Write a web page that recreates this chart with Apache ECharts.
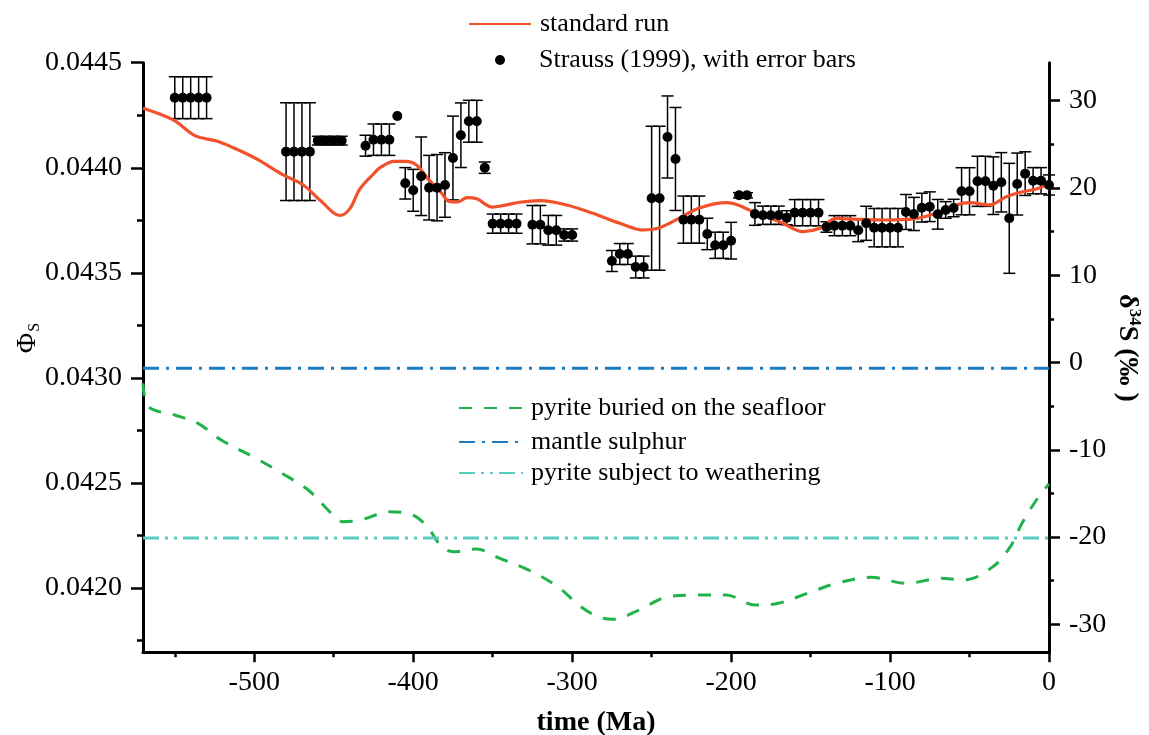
<!DOCTYPE html>
<html><head><meta charset="utf-8">
<script src="https://cdn.jsdelivr.net/npm/echarts@6/dist/echarts.min.js"></script>
<style>html,body{margin:0;padding:0;background:#fff}#c{width:1149px;height:735px}</style>
</head><body><div id="c"></div>
<script>
const FONT = 'Liberation Serif';

// Strauss (1999) data: time (Ma), delta34S (permil), error (permil)
const straussTime = [-550,-545,-540,-535,-530,-480,-475,-470,-465,-460,-455,-450,-445,-430,-425,-420,-415,-410,-405,-400,-395,-390,-385,-380,-375,-370,-365,-360,-355,-350,-345,-340,-335,-325,-320,-315,-310,-305,-300,-275,-270,-265,-260,-255,-250,-245,-240,-235,-230,-225,-220,-215,-210,-205,-200,-195,-190,-185,-180,-175,-170,-165,-160,-155,-150,-145,-140,-135,-130,-125,-120,-115,-110,-105,-100,-95,-90,-85,-80,-75,-70,-65,-60,-55,-50,-45,-40,-35,-30,-25,-20,-15,-10,-5,0];
const straussD34S = [30.34,30.34,30.34,30.34,30.34,24.16,24.16,24.16,24.16,25.42,25.42,25.42,25.42,24.84,25.53,25.53,25.53,28.25,20.53,19.73,21.34,20.03,20.03,20.34,23.43,26.04,27.64,27.64,22.32,15.91,15.91,15.91,15.91,15.79,15.79,15.15,15.15,14.61,14.61,11.63,12.43,12.43,10.94,10.94,18.82,18.82,25.84,23.32,16.37,16.37,16.37,14.73,13.43,13.43,13.96,19.16,19.16,17.02,16.87,16.87,16.87,16.59,17.17,17.17,17.17,17.17,15.53,15.68,15.68,15.68,15.15,15.95,15.45,15.45,15.45,15.45,17.25,17.02,17.74,17.85,16.98,17.48,17.70,19.62,19.62,20.76,20.76,20.26,20.65,16.52,20.45,21.64,20.83,20.83,20.34];
const straussErr = [2.4,2.4,2.4,2.4,2.4,5.6,5.6,5.6,5.6,0.5,0.5,0.5,0.5,1.2,1.8,1.8,1.8,0,1.8,2.4,4.5,3.7,3.8,3.7,4.8,3.7,2.4,2.4,0.65,1.1,1.1,1.1,1.1,2.2,2.2,1.7,1.7,0.7,0.7,1.2,1.2,1.2,1.25,1.25,8.25,8.25,4.7,5.9,2.7,2.7,2.7,1.8,1.5,1.5,2.1,0.3,0.3,1.3,1.05,1.05,1.05,0.8,1.5,1.5,1.5,1.5,0.6,1.15,1.15,1.15,1.3,1.95,2.2,2.2,2.2,2.2,2.0,1.9,1.65,1.7,1.7,0.95,1.0,2.7,2.7,2.87,2.87,3.3,3.4,6.3,3.55,2.5,1.5,1.5,1.15];

// standard run
const runTime = [-570,-551,-537,-523.6,-511,-498.5,-481.8,-469.2,-458.7,-446,-440,-433.5,-425,-421,-412,-405,-398,-390,-383,-377,-372,-366,-360,-350,-343,-333,-320,-303.5,-287,-270,-255,-245,-232,-220,-203,-194.5,-182,-169.4,-154.7,-144.2,-133.7,-121,-102,-85.5,-70.8,-58.2,-50,-37.3,-26.8,-16.4,-8,-1.6,0];
const runD34S = [29.13,27.79,25.96,25.38,24.43,23.32,21.49,20.34,18.62,16.85,17.6,19.9,21.6,22.3,23.05,23.05,22.63,20.9,19.6,18.43,18.4,18.9,18.75,17.8,18.0,18.36,18.54,18.05,17.1,15.95,15.18,15.45,16.6,17.7,18.31,17.97,16.9,16.14,14.99,15.38,16.52,16.41,16.33,16.45,17.1,18.05,18.31,18.05,19.0,19.57,19.88,20.34,20.45];

// pyrite buried on the seafloor
const pyriteTime = [-570,-566.4,-550,-535.4,-520.8,-498.9,-482.5,-466,-451.4,-444.1,-433.1,-414.9,-400.3,-391.2,-382.1,-374.8,-360.2,-345.5,-327.3,-309.1,-294.5,-283.5,-274.4,-258,-239.7,-221.4,-203.2,-185,-170.4,-152.1,-133.8,-111.9,-90,-68.1,-53.5,-35.3,-24.3,-17,-7.9,0];
const pyriteD34S = [-2.38,-5.06,-6.01,-6.97,-8.88,-10.98,-12.7,-14.61,-17.28,-18.24,-18.05,-17.1,-17.47,-18.81,-21.1,-21.68,-21.37,-22.44,-23.78,-25.69,-27.98,-29.13,-29.42,-28.36,-26.83,-26.64,-26.64,-27.79,-27.59,-26.45,-25.3,-24.61,-25.3,-24.73,-24.92,-23.4,-21.1,-18.42,-15.75,-13.9];

// mantle sulphur and weathering pyrite (constant)
const mantleTime = [-570, 0];
const mantleD34S = [-0.65, -0.65];
const weatherTime = [-570, 0];
const weatherD34S = [-20.1, -20.1];

// axes
const xRange = [-570, 0];
const phiRange = [0.041694, 0.0445];
const d34Range = [-33.2, 34.35];
const xMajorTicks = [-500,-400,-300,-200,-100,0];
const xMinorTicks = [-550,-450,-350,-250,-150,-50];
const phiTicks = [0.0420,0.0425,0.0430,0.0435,0.0440,0.0445];
const phiMinorTicks = [0.04175,0.04225,0.04275,0.04325,0.04375,0.04425];
const d34Ticks = [-30,-20,-10,0,10,20,30];
const d34MinorTicks = [-25,-15,-5,5,15,25];

const zip = (a, b) => a.map((v, i) => [v, b[i]]);
const tickStyle = {color:'#000', width:2.5};
const labelStyle = {fontFamily:FONT, fontSize:28, color:'#000'};

const chart = echarts.init(document.getElementById('c'), null, {renderer:'canvas'});
function legendAt(name, left, centerY, w, h, padLeft, icon) {
  const l = {data:[name], left:left, top:centerY - 15, padding:0, itemWidth:w, itemHeight:h,
    textStyle:{fontFamily:FONT, fontSize:26, color:'#000', padding:[0,0,0,padLeft], lineHeight:30},
    selectedMode:false};
  if (icon) l.icon = icon; else l.itemStyle = {opacity:0};
  return l;
}
chart.setOption({
  animation:false,
  backgroundColor:'#fff',
  grid:{left:143, right:100, top:62.7, bottom:82.7, containLabel:false, outerBoundsMode:'none'},
  legend:[
    legendAt('standard run', 468, 24, 62, 14, 4),
    legendAt('Strauss (1999), with error bars', 495, 60, 10, 10, 29, 'circle'),
    legendAt('pyrite buried on the seafloor', 458, 408, 64, 14, 3),
    legendAt('mantle sulphur', 458, 442, 64, 14, 3),
    legendAt('pyrite subject to weathering', 458, 473, 64, 14, 3)
  ],
  xAxis:[
    {type:'value', min:xRange[0], max:xRange[1], position:'bottom',
     name:'time (Ma)', nameLocation:'middle', nameGap:56,
     nameTextStyle:{fontFamily:FONT, fontSize:28, fontWeight:'bold', color:'#000'},
     axisLine:{show:true, onZero:false, lineStyle:{color:'#000', width:3}},
     axisTick:{show:true, customValues:xMajorTicks, length:10, lineStyle:tickStyle},
     axisLabel:Object.assign({customValues:xMajorTicks, margin:16}, labelStyle),
     splitLine:{show:false}},
    {type:'value', min:xRange[0], max:xRange[1], position:'bottom',
     axisLine:{show:false, onZero:false},
     axisTick:{show:true, customValues:xMinorTicks, length:5, lineStyle:tickStyle},
     axisLabel:{show:false}, splitLine:{show:false}}
  ],
  yAxis:[
    {type:'value', min:phiRange[0], max:phiRange[1], position:'left',
     axisLine:{show:true, onZero:false, lineStyle:{color:'#000', width:3}},
     axisTick:{show:true, customValues:phiTicks, length:12, lineStyle:tickStyle},
     axisLabel:Object.assign({customValues:phiTicks, margin:21, formatter:v => v.toFixed(4)}, labelStyle),
     splitLine:{show:false}},
    {type:'value', min:phiRange[0], max:phiRange[1], position:'left',
     axisLine:{show:false, onZero:false},
     axisTick:{show:true, customValues:phiMinorTicks, length:6, lineStyle:tickStyle},
     axisLabel:{show:false}, splitLine:{show:false}},
    {type:'value', min:d34Range[0], max:d34Range[1], position:'right',
     axisLine:{show:true, onZero:false, lineStyle:{color:'#000', width:3}},
     axisTick:{show:true, customValues:d34Ticks, length:11, lineStyle:tickStyle},
     axisLabel:Object.assign({customValues:d34Ticks, margin:20}, labelStyle),
     splitLine:{show:false}},
    {type:'value', min:d34Range[0], max:d34Range[1], position:'right',
     axisLine:{show:false, onZero:false},
     axisTick:{show:true, customValues:d34MinorTicks, length:5, lineStyle:tickStyle},
     axisLabel:{show:false}, splitLine:{show:false}}
  ],
  graphic:[
    {type:'text', x:28, y:338, rotation:Math.PI/2,
     style:{text:'{a|Φ}{b|S}', align:'center', verticalAlign:'middle',
       rich:{a:{fontFamily:FONT, fontSize:28, fill:'#000'}, b:{fontFamily:FONT, fontSize:16, fill:'#000', padding:[14,0,0,1]}}}},
    {type:'text', x:1127, y:348, rotation:-Math.PI/2,
     style:{text:'{a|δ}{b|34}{a|S (‰ )}', align:'center', verticalAlign:'middle',
       rich:{a:{fontFamily:FONT, fontSize:28, fontWeight:'bold', fill:'#000'}, b:{fontFamily:FONT, fontSize:17, fontWeight:'bold', fill:'#000', padding:[0,0,14,0]}}}}
  ],
  series:[
    {type:'custom', name:'errorbars', xAxisIndex:0, yAxisIndex:2, z:2, silent:true,
     data: straussTime.map((t, i) => [t, straussD34S[i] - straussErr[i], straussD34S[i] + straussErr[i]]),
     encode:{x:0, y:[1,2]},
     renderItem:(params, api) => {
       const t = api.value(0), lo = api.value(1), hi = api.value(2);
       if (hi - lo < 1e-9) return {type:'group', children:[]};
       const p1 = api.coord([t, lo]), p2 = api.coord([t, hi]);
       const w = 6, st = {stroke:'#000', lineWidth:1.5};
       return {type:'group', children:[
         {type:'line', shape:{x1:p1[0], y1:p1[1], x2:p2[0], y2:p2[1]}, style:st},
         {type:'line', shape:{x1:p1[0]-w, y1:p1[1], x2:p1[0]+w, y2:p1[1]}, style:st},
         {type:'line', shape:{x1:p2[0]-w, y1:p2[1], x2:p2[0]+w, y2:p2[1]}, style:st}
       ]};
     }},
    {type:'line', name:'standard run', xAxisIndex:0, yAxisIndex:2, z:3,
     data: zip(runTime, runD34S), smooth:0.35, symbol:'none',
     lineStyle:{color:'#F2512B', width:3.2}, itemStyle:{color:'#F2512B'}},
    {type:'scatter', name:'Strauss (1999), with error bars', xAxisIndex:0, yAxisIndex:2, z:4,
     data: zip(straussTime, straussD34S), symbol:'circle', symbolSize:10,
     itemStyle:{color:'#000', opacity:1}},
    {type:'line', name:'pyrite buried on the seafloor', xAxisIndex:0, yAxisIndex:2, z:3,
     data: zip(pyriteTime, pyriteD34S), smooth:0.35, symbol:'none',
     lineStyle:{color:'#22B24C', width:3, type:[13,12]}, itemStyle:{color:'#22B24C'}},
    {type:'line', name:'mantle sulphur', xAxisIndex:0, yAxisIndex:2, z:3,
     data: zip(mantleTime, mantleD34S), symbol:'none',
     lineStyle:{color:'#1B7CC2', width:3, type:[16,7,3,7]}, itemStyle:{color:'#1B7CC2'}},
    {type:'line', name:'pyrite subject to weathering', xAxisIndex:0, yAxisIndex:2, z:3,
     data: zip(weatherTime, weatherD34S), symbol:'none',
     lineStyle:{color:'#5CC9C1', width:3, type:[16,6,3,6,3,6]}, itemStyle:{color:'#5CC9C1'}}
  ]
});
</script>
</body></html>
